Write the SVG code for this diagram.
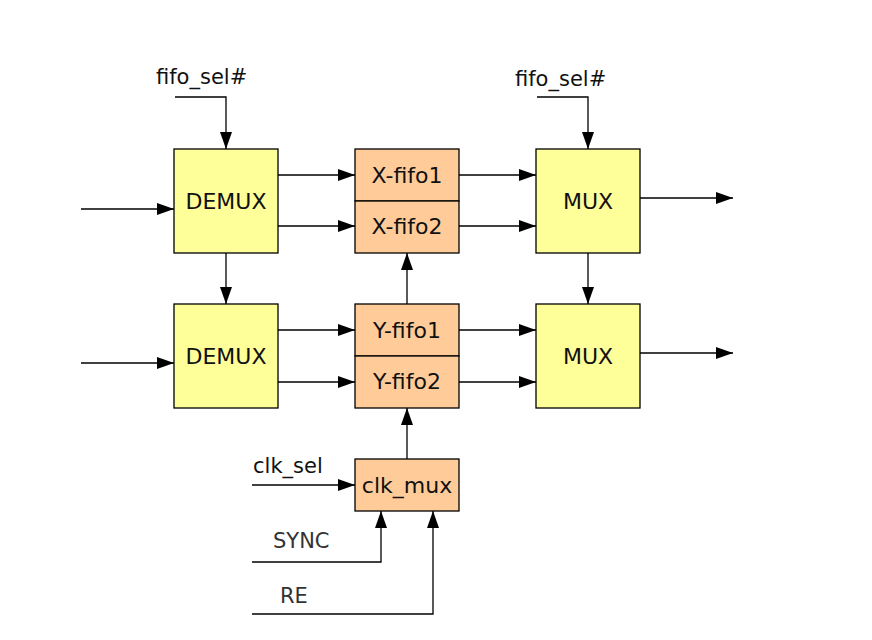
<svg xmlns="http://www.w3.org/2000/svg" width="872" height="640" viewBox="0 0 872 640">
<style>
.y{fill:#FFFF99;stroke:#000;stroke-width:1.3}
.o{fill:#FFCC99;stroke:#000;stroke-width:1.3}
.t{font-family:"DejaVu Sans","Liberation Sans",sans-serif;font-size:22px;fill:#111;text-anchor:middle}
.l{font-family:"DejaVu Sans","Liberation Sans",sans-serif;font-size:21px;fill:#111}
.s{font-family:"DejaVu Sans","Liberation Sans",sans-serif;font-size:21px;fill:#333}
.c path{fill:none;stroke:#000;stroke-width:1.3}
</style>
<defs>
<marker id="a" markerUnits="userSpaceOnUse" markerWidth="18" markerHeight="12" refX="17" refY="6" orient="auto">
<path d="M0,0 L17,6 L0,12 Z" fill="#000"/>
</marker>
</defs>
<rect width="872" height="640" fill="#fff"/>
<g id="demux1"><rect class="y" x="174" y="149" width="104" height="104"/><text class="t" x="226" y="209">DEMUX</text></g>
<g id="demux2"><rect class="y" x="174" y="304" width="104" height="104"/><text class="t" x="226" y="364">DEMUX</text></g>
<g id="xfifo1"><rect class="o" x="355" y="149" width="104" height="52"/><text class="t" x="407" y="183">X-fifo1</text></g>
<g id="xfifo2"><rect class="o" x="355" y="201" width="104" height="52"/><text class="t" x="407" y="234">X-fifo2</text></g>
<g id="yfifo1"><rect class="o" x="355" y="304" width="104" height="52"/><text class="t" x="407" y="338">Y-fifo1</text></g>
<g id="yfifo2"><rect class="o" x="355" y="356" width="104" height="52"/><text class="t" x="407" y="389">Y-fifo2</text></g>
<g id="mux1"><rect class="y" x="536" y="149" width="104" height="104"/><text class="t" x="588" y="209">MUX</text></g>
<g id="mux2"><rect class="y" x="536" y="304" width="104" height="104"/><text class="t" x="588" y="364">MUX</text></g>
<g id="clkmux"><rect class="o" x="355" y="459" width="104" height="52"/><text class="t" x="407" y="493">clk_mux</text></g>
<g id="labels">
<text class="l" x="156" y="84">fifo_sel#</text>
<text class="l" x="515" y="86">fifo_sel#</text>
<text class="l" x="253" y="473">clk_sel</text>
<text class="s" x="273" y="548">SYNC</text>
<text class="s" x="280" y="603">RE</text>
</g>
<g class="c" id="connectors">
<path d="M175,97 H226 V149" marker-end="url(#a)"/>
<path d="M537,97 H588 V149" marker-end="url(#a)"/>
<path d="M81,209 H174" marker-end="url(#a)"/>
<path d="M81,363 H174" marker-end="url(#a)"/>
<path d="M278,175 H355" marker-end="url(#a)"/>
<path d="M278,226 H355" marker-end="url(#a)"/>
<path d="M278,330 H355" marker-end="url(#a)"/>
<path d="M278,382 H355" marker-end="url(#a)"/>
<path d="M459,175 H536" marker-end="url(#a)"/>
<path d="M459,226 H536" marker-end="url(#a)"/>
<path d="M459,330 H536" marker-end="url(#a)"/>
<path d="M459,382 H536" marker-end="url(#a)"/>
<path d="M640,198 H733" marker-end="url(#a)"/>
<path d="M640,353 H733" marker-end="url(#a)"/>
<path d="M226,253 V304" marker-end="url(#a)"/>
<path d="M588,253 V304" marker-end="url(#a)"/>
<path d="M407,304 V253" marker-end="url(#a)"/>
<path d="M407,459 V408" marker-end="url(#a)"/>
<path d="M252,485 H355" marker-end="url(#a)"/>
<path d="M252,562 H381 V511" marker-end="url(#a)"/>
<path d="M252,614 H433 V511" marker-end="url(#a)"/>
</g>
</svg>
